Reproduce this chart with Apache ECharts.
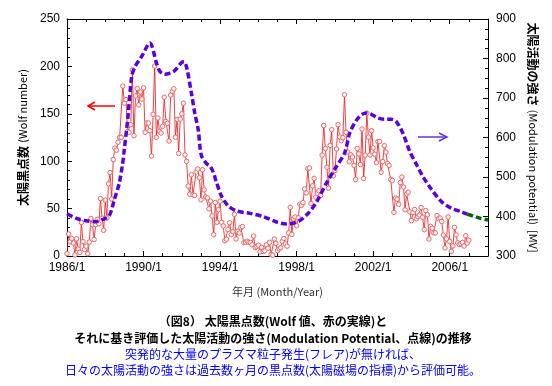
<!DOCTYPE html>
<html><head><meta charset="utf-8">
<script src="https://cdn.jsdelivr.net/npm/echarts@6/dist/echarts.min.js"></script>
<style>html,body{margin:0;padding:0;background:#fff}#c{width:552px;height:386px}</style>
</head><body><div id="c"></div>
<script>
// Monthly sunspot (Wolf) numbers starting 1986/1
const startYear = 1986;
const sunspot = [
  2.5, 23.2, 15.1, 18.5, 13.7, 1.1, 18.1, 7.4, 3.8, 35.4, 15.2, 6.8,
  10.4, 2.4, 14.7, 39.6, 33.0, 17.4, 33.0, 38.7, 33.9, 60.6, 39.9, 27.1,
  59.0, 40.0, 76.2, 88.0, 60.1, 101.8, 113.8, 111.6, 120.1, 125.1, 125.1, 179.2,
  161.3, 165.0, 131.4, 130.5, 138.5, 196.2, 126.9, 168.9, 176.7, 159.4, 173.0, 165.5,
  177.3, 130.5, 140.3, 140.3, 132.2, 105.4, 149.4, 200.3, 125.2, 145.5, 131.4, 129.7,
  136.9, 167.5, 141.9, 140.0, 121.3, 169.7, 173.7, 176.3, 125.3, 144.1, 108.2, 144.4,
  150.0, 161.1, 106.7, 99.8, 73.8, 65.2, 85.7, 64.5, 63.9, 88.7, 91.8, 82.6,
  59.3, 91.0, 69.8, 62.2, 61.3, 49.8, 57.9, 42.2, 22.4, 56.4, 35.6, 48.9,
  57.8, 35.5, 31.7, 16.1, 17.8, 28.0, 35.1, 22.5, 25.7, 44.0, 18.0, 26.2,
  24.2, 29.9, 31.1, 14.0, 14.5, 15.6, 14.5, 14.3, 11.8, 21.1, 9.0, 10.0,
  11.5, 4.4, 9.2, 4.8, 5.5, 11.8, 8.2, 14.4, 1.6, 0.9, 17.9, 13.3,
  5.7, 7.6, 8.7, 15.5, 18.5, 12.7, 10.4, 24.4, 51.3, 22.8, 39.0, 41.2,
  31.9, 40.3, 54.8, 53.4, 56.3, 70.7, 66.6, 92.2, 92.9, 55.5, 74.0, 81.9,
  62.0, 66.3, 68.8, 63.7, 106.4, 137.7, 113.5, 93.7, 71.5, 116.7, 133.2, 84.6,
  90.1, 112.9, 138.5, 125.5, 121.6, 124.9, 170.1, 130.5, 109.7, 99.4, 106.8, 104.4,
  95.6, 80.6, 113.5, 107.7, 96.6, 134.0, 81.8, 106.4, 150.7, 125.5, 106.5, 132.2,
  114.1, 107.4, 98.4, 120.7, 120.8, 88.3, 99.6, 116.4, 109.6, 97.5, 95.5, 80.8,
  79.7, 46.0, 61.1, 60.0, 54.6, 77.4, 83.3, 72.7, 48.7, 65.5, 67.3, 46.5,
  37.3, 45.8, 49.1, 39.3, 41.5, 43.2, 51.1, 40.9, 27.7, 48.0, 43.5, 17.9,
  31.3, 29.2, 24.5, 24.4, 42.7, 39.3, 40.1, 36.4, 22.1, 8.5, 18.0, 41.2,
  15.3, 4.9, 10.6, 30.2, 22.3, 13.9, 12.2, 12.9, 14.4, 10.5, 21.4, 13.6,
  16.8
];
// Modulation potential (MV), decimal years
const mpYears = [1986.0, 1986.5, 1987.0, 1987.5, 1987.9, 1988.21, 1988.47, 1988.73, 1988.91, 1988.99,
  1989.18, 1989.38, 1989.55, 1989.9, 1990.33, 1990.68, 1990.86, 1991.11, 1991.38, 1991.64,
  1991.99, 1992.11, 1992.25, 1992.51, 1992.68, 1992.86, 1993.02, 1993.29, 1993.46, 1993.62,
  1993.81, 1994.07, 1994.42, 1994.86, 1995.56, 1996.25, 1996.95, 1997.47, 1997.82, 1998.17,
  1998.6, 1999.02, 1999.55, 2000.07, 2000.5, 2000.78, 2001.13, 2001.4, 2001.67, 2001.93,
  2002.26, 2002.6, 2002.95, 2003.2, 2003.56, 2003.9, 2004.26, 2004.6, 2005.04, 2005.56,
  2006.08, 2006.6, 2006.92];
const mpValues = [407, 395, 389, 387, 393, 402, 442, 484, 535, 568,
  650, 754, 779, 805, 839, 788, 767, 760, 763, 770,
  790, 792, 778, 710, 661, 619, 555, 534, 528, 515,
  487, 452, 427, 414, 408, 400, 386, 381, 383, 390,
  408, 435, 484, 526, 560, 612, 644, 658, 662, 658,
  649, 646, 646, 641, 610, 566, 532, 501, 469, 438,
  421, 412, 406];
const tailYears = [2006.92, 2007.57, 2008.0];
const tailValues = [406, 396, 391];
const xTickLabels = ['1986/1', '1990/1', '1994/1', '1998/1', '2002/1', '2006/1'];

const t = y => +(y - startYear).toFixed(4);
const ssData = sunspot.map((v, i) => [t(startYear + i / 12), v]);
const mpData = mpYears.map((y, i) => [t(y), mpValues[i]]);
const tailData = tailYears.map((y, i) => [t(y), tailValues[i]]);

const numFont = '"Liberation Sans Narrow","Liberation Sans",Arial,sans-serif';
const jpFont = '"Noto Sans CJK JP",sans-serif';
const common = {
  axisLine: {show: true, onZero: false, lineStyle: {color: '#000', width: 1}},
  axisTick: {show: true, inside: true, length: 5, lineStyle: {color: '#000'}},
  minorTick: {show: true, length: 3, lineStyle: {color: '#000'}},
  splitLine: {show: false},
  minorSplitLine: {show: false}
};
const chart = echarts.init(document.getElementById('c'), null, {renderer: 'canvas'});
chart.setOption({
  animation: false,
  backgroundColor: '#fff',
  grid: {left: 67, right: 64, top: 19, bottom: 130, containLabel: false},
  xAxis: [
    Object.assign({}, common, {
      type: 'value', min: 0, max: 22, interval: 4, position: 'bottom',
      minorTick: Object.assign({}, common.minorTick, {splitNumber: 4}),
      axisLabel: {margin: 6, color: '#000', fontFamily: numFont, fontSize: 12,
        formatter: v => xTickLabels[Math.round(v / 4)] || ''},
      name: '年月 (Month/Year)', nameLocation: 'middle', nameGap: 30,
      nameTextStyle: {fontFamily: jpFont, fontSize: 11, color: '#333'}
    }),
    Object.assign({}, common, {
      type: 'value', min: 0, max: 22, interval: 4, position: 'top',
      minorTick: Object.assign({}, common.minorTick, {splitNumber: 4}),
      axisLabel: {show: false}
    })
  ],
  yAxis: [
    Object.assign({}, common, {
      type: 'value', min: 0, max: 250, interval: 50, position: 'left',
      minorTick: Object.assign({}, common.minorTick, {splitNumber: 5}),
      axisLabel: {margin: 7, color: '#000', fontFamily: numFont, fontSize: 12},
      name: '{b|太陽黒点数} {n|(Wolf number)}', nameLocation: 'middle', nameGap: 38, nameRotate: 90,
      nameTextStyle: {rich: {
        b: {fontFamily: jpFont, fontWeight: 'bold', fontSize: 12, color: '#000'},
        n: {fontFamily: jpFont, fontSize: 11, color: '#000'}
      }}
    }),
    Object.assign({}, common, {
      type: 'value', min: 300, max: 900, interval: 100, position: 'right',
      minorTick: Object.assign({}, common.minorTick, {splitNumber: 4}),
      axisLabel: {margin: 8, color: '#000', fontFamily: numFont, fontSize: 12},
      name: '{b|太陽活動の強さ} {n|(Modulation potential)  [MV]}', nameLocation: 'middle', nameGap: 39, nameRotate: -90,
      nameTextStyle: {rich: {
        b: {fontFamily: jpFont, fontWeight: 'bold', fontSize: 12, color: '#000'},
        n: {fontFamily: jpFont, fontSize: 11, color: '#000'}
      }}
    })
  ],
  series: [
    {
      type: 'line', xAxisIndex: 0, yAxisIndex: 0, data: ssData,
      symbol: 'circle', symbolSize: 4.5, showSymbol: true,
      lineStyle: {color: '#ee1111', width: 0.8},
      itemStyle: {color: '#fff4f4', borderColor: '#e86a6a', borderWidth: 1},
      z: 2
    },
    {
      type: 'line', xAxisIndex: 0, yAxisIndex: 1, data: mpData, smooth: 0.3,
      showSymbol: false, symbol: 'none',
      lineStyle: {color: '#5a00dc', width: 3.5, type: [6, 3]},
      z: 3
    },
    {
      type: 'line', xAxisIndex: 0, yAxisIndex: 1, data: tailData, smooth: 0.3,
      showSymbol: false, symbol: 'none',
      lineStyle: {color: '#006600', width: 3.5, type: [6, 3]},
      z: 3
    }
  ],
  graphic: [
    {type: 'line', shape: {x1: 88, y1: 106, x2: 115, y2: 106}, style: {stroke: '#ff0000', lineWidth: 1.5}},
    {type: 'polyline', shape: {points: [[95, 102], [88, 106], [95, 110]]}, style: {stroke: '#ff0000', lineWidth: 1.5, fill: null}},
    {type: 'line', shape: {x1: 418, y1: 137, x2: 446, y2: 137}, style: {stroke: '#6633dd', lineWidth: 1.5}},
    {type: 'polyline', shape: {points: [[439, 133], [447, 137], [439, 141]]}, style: {stroke: '#6633dd', lineWidth: 1.5, fill: null}},
    {type: 'text', x: 273, y: 321, style: {text: '（図8） 太陽黒点数(Wolf 値、赤の実線)と', align: 'center', verticalAlign: 'middle', font: 'bold 12px "Noto Sans CJK JP"', fill: '#000'}},
    {type: 'text', x: 273, y: 338, style: {text: 'それに基き評価した太陽活動の強さ(Modulation Potential、点線)の推移', align: 'center', verticalAlign: 'middle', font: 'bold 12px "Noto Sans CJK JP"', fill: '#000'}},
    {type: 'text', x: 273, y: 354, style: {text: '突発的な大量のプラズマ粒子発生(フレア)が無ければ、', align: 'center', verticalAlign: 'middle', font: '12px "Noto Sans CJK JP"', fill: '#0000ff'}},
    {type: 'text', x: 273, y: 370, style: {text: '日々の太陽活動の強さは過去数ヶ月の黒点数(太陽磁場の指標)から評価可能。', align: 'center', verticalAlign: 'middle', font: '12px "Noto Sans CJK JP"', fill: '#0000ff'}}
  ]
});
</script>
</body></html>
